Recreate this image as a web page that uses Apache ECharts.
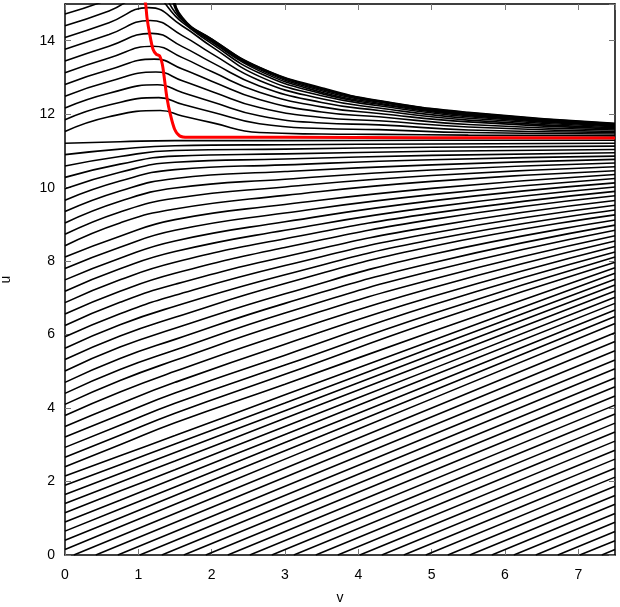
<!DOCTYPE html>
<html><head><meta charset="utf-8">
<script src="https://cdn.jsdelivr.net/npm/echarts@6/dist/echarts.min.js"></script>
<style>html,body{margin:0;padding:0;background:#fff}#c{width:620px;height:607px}</style>
</head><body><div id="c"></div>
<script>
// ---- data ----
const xTickLabels = [0, 1, 2, 3, 4, 5, 6, 7];
const yTickLabels = [0, 2, 4, 6, 8, 10, 12, 14];

// curves starting on the left edge, below the red curve: u at these v
const lowV = [0, 0.75, 1.5, 3, 5, 7.5];
const lowCurves = [
  [11.21, 11.25, 11.28, 11.28, 11.29, 11.29],
  [10.9, 11.05, 11.14, 11.17, 11.19, 11.21],
  [10.59, 10.85, 11.01, 11.05, 11.1, 11.13],
  [10.28, 10.64, 10.86, 10.92, 10.99, 11.04],
  [9.97, 10.42, 10.69, 10.78, 10.88, 10.95],
  [9.66, 10.18, 10.49, 10.62, 10.76, 10.86],
  [9.35, 9.91, 10.25, 10.44, 10.62, 10.77],
  [9.04, 9.63, 9.99, 10.23, 10.48, 10.67],
  [8.73, 9.34, 9.71, 10.02, 10.33, 10.57],
  [8.42, 9.04, 9.42, 9.79, 10.17, 10.46],
  [8.11, 8.68, 9.13, 9.54, 9.98, 10.36],
  [7.8, 8.38, 8.84, 9.31, 9.81, 10.25],
  [7.49, 8.08, 8.55, 9.07, 9.64, 10.13],
  [7.18, 7.79, 8.26, 8.84, 9.47, 10.02],
  [6.87, 7.49, 7.97, 8.61, 9.3, 9.9],
  [6.56, 7.18, 7.67, 8.37, 9.13, 9.78],
  [6.25, 6.88, 7.37, 8.12, 8.94, 9.65],
  [5.94, 6.57, 7.07, 7.88, 8.76, 9.52],
  [5.63, 6.27, 6.77, 7.63, 8.58, 9.39],
  [5.32, 5.96, 6.47, 7.39, 8.4, 9.26],
  [5.01, 5.66, 6.17, 7.11, 8.18, 9.12],
  [4.7, 5.35, 5.87, 6.85, 7.95, 8.98],
  [4.4, 5.05, 5.58, 6.59, 7.73, 8.84],
  [4.1, 4.75, 5.3, 6.32, 7.5, 8.69],
  [3.8, 4.44, 5.0, 6.03, 7.27, 8.55],
  [3.5, 4.12, 4.7, 5.74, 7.03, 8.4],
  [3.21, 3.82, 4.41, 5.44, 6.8, 8.25],
  [2.93, 3.53, 4.13, 5.17, 6.56, 8.11],
  [2.66, 3.26, 3.86, 4.92, 6.35, 7.97],
  [2.4, 3.0, 3.6, 4.65, 6.08, 7.82],
  [2.15, 2.7, 3.25, 4.36, 5.83, 7.67],
  [1.9, 2.46, 3.02, 4.14, 5.64, 7.51],
  [1.65, 2.22, 2.79, 3.93, 5.45, 7.35],
  [1.4, 1.98, 2.56, 3.72, 5.26, 7.19],
  [1.15, 1.74, 2.32, 3.5, 5.06, 7.02],
  [0.9, 1.49, 2.09, 3.28, 4.87, 6.85],
  [0.65, 1.25, 1.85, 3.06, 4.66, 6.67],
  [0.4, 1.01, 1.62, 2.84, 4.46, 6.49],
  [0.15, 0.77, 1.38, 2.61, 4.25, 6.3]
];

// straight curves starting on the bottom edge (u = 0) and ending at v = 7.5
const bottomStartV = [0.12, 0.42, 0.72, 1.02, 1.32, 1.62, 1.92, 2.22, 2.52, 2.82, 3.12, 3.42,
                      3.72, 4.02, 4.32, 4.62, 4.92, 5.22, 5.52, 5.82, 6.12, 6.42, 6.72, 7.02, 7.32];
const bottomEndU = [6.05, 5.81, 5.56, 5.31, 5.07, 4.82, 4.58, 4.33, 4.08, 3.84, 3.59, 3.35,
                    3.1, 2.85, 2.61, 2.36, 2.12, 1.87, 1.62, 1.38, 1.13, 0.89, 0.64, 0.39, 0.15];

// curves starting on the left edge above the red curve: [v, u] points
const upperCurves = [
  [[0,11.53],[0.6,11.93],[1.3,12.1],[1.6,11.95],[2.0,11.77],[2.65,11.5],[3.5,11.46],[4.28,11.45],[5.5,11.43],[7.5,11.41]],
  [[0,11.85],[0.6,12.25],[1.28,12.45],[1.6,12.27],[2.0,12.06],[2.65,11.74],[3.5,11.61],[4.28,11.58],[5.5,11.5],[7.5,11.46]],
  [[0,12.17],[0.6,12.57],[1.26,12.8],[1.6,12.59],[2.0,12.34],[2.65,11.96],[3.5,11.76],[4.28,11.71],[5.5,11.57],[7.5,11.5]],
  [[0,12.49],[0.6,12.89],[1.24,13.15],[1.6,12.91],[2.0,12.62],[2.65,12.18],[3.5,11.91],[4.28,11.82],[5.5,11.65],[7.5,11.53]],
  [[0,12.81],[0.6,13.21],[1.22,13.5],[1.6,13.23],[2.0,12.9],[2.65,12.4],[3.5,12.06],[4.28,11.93],[5.5,11.72],[7.5,11.57]],
  [[0,13.13],[0.6,13.53],[1.2,13.85],[1.6,13.54],[2.0,13.16],[2.65,12.6],[3.5,12.2],[4.28,12.02],[5.5,11.79],[7.5,11.6]],
  [[0,13.45],[0.6,13.85],[1.18,14.2],[1.6,13.84],[2.0,13.41],[2.65,12.77],[3.5,12.32],[4.28,12.1],[5.5,11.84],[7.5,11.63]],
  [[0,13.77],[0.6,14.17],[1.16,14.55],[1.6,14.14],[2.0,13.65],[2.65,12.92],[3.5,12.42],[4.28,12.17],[5.5,11.89],[7.5,11.66]],
  [[0,14.09],[0.6,14.49],[1.14,14.9],[1.6,14.4],[2.0,13.84],[2.65,13.03],[3.5,12.5],[4.28,12.23],[5.5,11.93],[7.5,11.68]],
  [[0,14.41],[0.6,14.81],[1.12,15.25],[1.6,14.5],[2.0,13.92],[2.65,13.12],[3.5,12.56],[4.28,12.27],[5.5,11.96],[7.5,11.7]],
  [[0,14.73],[0.6,15.13],[1.1,15.6],[1.6,14.55],[2.0,13.97],[2.65,13.18],[3.5,12.6],[4.28,12.3],[5.5,11.98],[7.5,11.71]]
];

// curves entering through the top edge (upper envelope bundle)
const topV = [1.3, 1.45, 1.6, 2.0, 2.65, 3.5, 4.28, 5.5, 7.5];
const topCurves = [
  [15.9, 15.15, 14.58, 14.0, 13.22, 12.64, 12.33, 12.0, 11.72],
  [16.1, 15.25, 14.6, 14.02, 13.25, 12.67, 12.35, 12.02, 11.73],
  [16.3, 15.35, 14.62, 14.04, 13.27, 12.7, 12.36, 12.04, 11.74],
  [16.5, 15.45, 14.64, 14.05, 13.28, 12.72, 12.37, 12.05, 11.75]
];

// red curve
const redV = [1.087, 1.1, 1.118, 1.155, 1.2, 1.246, 1.29, 1.327, 1.359, 1.39, 1.436, 1.495, 1.563, 1.675, 3, 5, 7.5];
const redU = [15.1, 15.0, 14.63, 14.18, 13.77, 13.63, 13.59, 13.36, 12.91, 12.45, 12.0, 11.59, 11.41, 11.37, 11.37, 11.36, 11.35];

// ---- chart ----
const FONT = 'Liberation Sans, Arial, sans-serif';
const series = [];
function blackLine(data) {
  series.push({
    type: 'line', data: data, showSymbol: false, symbol: 'none', silent: true,
    smooth: 0.5, clip: true,
    lineStyle: { color: '#000', width: 1.6 }, xAxisIndex: 0, yAxisIndex: 0, z: 2
  });
}
lowCurves.forEach(c => blackLine(c.map((u, i) => [lowV[i], u])));
bottomStartV.forEach((v0, i) => blackLine([[v0, 0], [7.5, bottomEndU[i]]]));
upperCurves.forEach(c => blackLine(c));
topCurves.forEach(c => blackLine(c.map((u, i) => [topV[i], u])));
series.push({
  type: 'line', data: redV.map((v, i) => [v, redU[i]]), showSymbol: false, symbol: 'none', silent: true,
  smooth: 0.3, clip: true,
  lineStyle: { color: '#ff0000', width: 3 }, xAxisIndex: 0, yAxisIndex: 0, z: 5
});

const lineCfg = { show: true, onZero: false, lineStyle: { color: '#000', width: 1.5 } };
const tickCfg = { show: true, inside: true, length: 6, lineStyle: { color: '#777', width: 1 } };

const chart = echarts.init(document.getElementById('c'), null, { renderer: 'canvas' });
chart.setOption({
  animation: false,
  backgroundColor: '#fff',
  grid: { left: 65, right: 5, top: 4, bottom: 52, containLabel: false, outerBoundsMode: 'none' },
  xAxis: [
    { type: 'value', min: 0, max: 7.5, interval: 1, position: 'bottom',
      name: 'v', nameLocation: 'middle', nameGap: 36,
      nameTextStyle: { color: '#000', fontSize: 14, fontFamily: FONT },
      axisLine: lineCfg, axisTick: tickCfg, splitLine: { show: false },
      axisLabel: { color: '#000', fontSize: 14, fontFamily: FONT, margin: 13, showMaxLabel: false,
        formatter: v => xTickLabels.includes(v) ? String(v) : '' } },
    { type: 'value', min: 0, max: 7.5, interval: 1, position: 'top',
      axisLine: lineCfg, axisTick: tickCfg, splitLine: { show: false }, axisLabel: { show: false } }
  ],
  yAxis: [
    { type: 'value', min: 0, max: 15, interval: 2, position: 'left',
      name: 'u', nameLocation: 'middle', nameGap: 52,
      nameTextStyle: { color: '#000', fontSize: 14, fontFamily: FONT },
      axisLine: lineCfg, axisTick: tickCfg, splitLine: { show: false },
      axisLabel: { color: '#000', fontSize: 14, fontFamily: FONT, margin: 10, showMaxLabel: false,
        formatter: v => yTickLabels.includes(v) ? String(v) : '' } },
    { type: 'value', min: 0, max: 15, interval: 2, position: 'right',
      axisLine: lineCfg, axisTick: tickCfg, splitLine: { show: false }, axisLabel: { show: false } }
  ],
  series: series
});
</script>
</body></html>
